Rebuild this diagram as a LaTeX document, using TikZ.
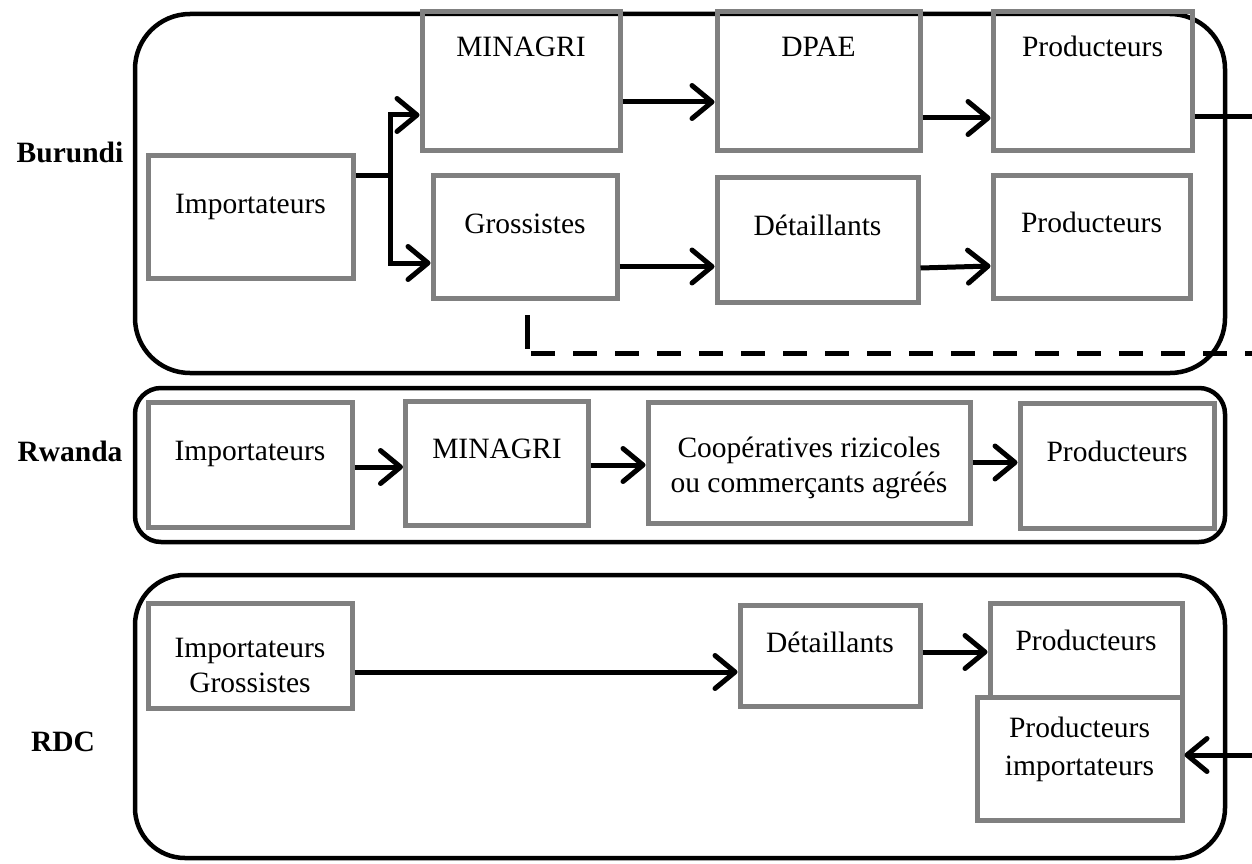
\documentclass[tikz,border=0pt]{standalone}
\usepackage{fontspec}
\setmainfont{Liberation Serif}
\usetikzlibrary{arrows.meta}

\begin{document}
\begin{tikzpicture}[x=1pt,y=-1pt,
  every node/.style={font=\fontsize{29.5}{35}\selectfont},
  stage/.style={draw=black!50, line width=5pt, inner sep=0pt, rectangle},
  txt/.style={inner sep=0pt, align=center, anchor=base},
  country/.style={font=\fontsize{29.5}{35}\selectfont\bfseries, inner sep=0pt, anchor=base},
  group/.style={draw=black, line width=4.5pt},
  flow/.style={draw=black, line width=5pt,
    -{Straight Barb[length=20pt,width=33pt,round]}},
  link/.style={draw=black, line width=5pt},
]
\useasboundingbox (0,0) rectangle (1252,864);

% country frames
\draw[group, rounded corners=55pt] (135,14) rectangle (1225,373);
\draw[group, rounded corners=26pt] (135,388) rectangle (1225,542);
\draw[group, rounded corners=50pt] (135,575) rectangle (1225,858);

% country names
\node[country] (lbu) at (70,162) {Burundi};
\node[country] (lrw) at (70,461) {Rwanda};
\node[country] (lrd) at (63,751) {RDC};

% ---------- Burundi ----------
\node[stage, minimum width=205pt, minimum height=123pt] (bImp) at (250.5,216.5) {};
\node[txt] at (250.5,213) {Importateurs};
\node[stage, minimum width=198pt, minimum height=138pt] (bMin) at (521,81) {};
\node[txt] at (521,57) {MINAGRI};
\node[stage, minimum width=203pt, minimum height=138pt] (bDpae) at (818.5,81) {};
\node[txt] at (818.5,57) {DPAE};
\node[stage, minimum width=199pt, minimum height=138pt] (bProdA) at (1092.5,81) {};
\node[txt] at (1092.5,57) {Producteurs};
\node[stage, minimum width=184pt, minimum height=123pt] (bGros) at (525,236.5) {};
\node[txt] at (525,233) {Grossistes};
\node[stage, minimum width=201pt, minimum height=125pt] (bDet) at (817.5,240) {};
\node[txt] at (817.5,235) {Détaillants};
\node[stage, minimum width=197pt, minimum height=123pt] (bProdB) at (1091.5,236.5) {};
\node[txt] at (1091.5,232) {Producteurs};

\coordinate (fork) at (390,175);
\coordinate (forkT) at (390,115);
\coordinate (forkB) at (390,263);
\draw[link] (bImp.east |- fork) -- (fork);
\draw[flow] (fork) |- (bMin.west |- forkT);
\draw[flow] (fork) |- (bGros.west |- forkB);
\draw[flow] ([yshift=-21pt]bMin.east) -- ([yshift=-21pt]bMin.east -| bDpae.west);
\draw[flow] ([yshift=-37pt]bDpae.east) -- ([yshift=-37pt]bDpae.east -| bProdA.west);
\coordinate (outA) at (1252,117);
\draw[link] (bProdA.east |- outA) -- (outA);
\draw[flow] ([yshift=-30pt]bGros.east) -- ([yshift=-30pt]bGros.east -| bDet.west);
\draw[flow] ([yshift=-28pt]bDet.east) -- ([yshift=-29.5pt]bProdB.west);

% dashed return
\coordinate (dTop) at (527,315);
\coordinate (dBend) at (527,349);
\coordinate (dStart) at (531,353);
\coordinate (dEnd) at (1252,353);
\draw[line width=5pt] (dTop) -- (dBend);
\draw[line width=5pt, dash pattern=on 24pt off 18pt] (dStart) -- (dEnd);

% ---------- Rwanda ----------
\node[stage, minimum width=204pt, minimum height=125pt] (rImp) at (250,465) {};
\node[txt] at (250,460) {Importateurs};
\node[stage, minimum width=183pt, minimum height=124pt] (rMin) at (497,463) {};
\node[txt] at (497,458) {MINAGRI};
\node[stage, minimum width=322pt, minimum height=121pt] (rCoop) at (809,462.5) {};
\node[txt] at (809,492) {Coopératives rizicoles\\ou commerçants agréés};
\node[stage, minimum width=194pt, minimum height=125pt] (rProd) at (1117,465.5) {};
\node[txt] at (1117,461) {Producteurs};

\draw[flow] ([yshift=-2pt]rImp.east) -- ([yshift=-2pt]rImp.east -| rMin.west);
\draw[flow] ([yshift=-2pt]rMin.east) -- ([yshift=-2pt]rMin.east -| rCoop.west);
\draw[flow] (rCoop.east) -- (rCoop.east -| rProd.west);

% ---------- RDC ----------
\node[stage, minimum width=204pt, minimum height=105pt] (dImp) at (250,655.5) {};
\node[txt] at (250,692) {Importateurs\\Grossistes};
\node[stage, minimum width=180pt, minimum height=101pt] (dDet) at (830,655.5) {};
\node[txt] at (830,652) {Détaillants};
\node[stage, minimum width=192pt, minimum height=94pt] (dProd) at (1086,650) {};
\node[txt] at (1086,650) {Producteurs};
\node[stage, fill=white, minimum width=205pt, minimum height=123pt] (dProdImp) at (1079.5,758.5) {};
\node[txt, font=\fontsize{29.5}{38}\selectfont] at (1079.5,775) {Producteurs\\importateurs};

\draw[flow] ([yshift=-16.5pt]dImp.east) -- ([yshift=-16.5pt]dImp.east -| dDet.west);
\draw[flow] ([yshift=3.5pt]dDet.east) -- ([yshift=3.5pt]dDet.east -| dProd.west);
\coordinate (inB) at (1252,755);
\draw[flow] (inB) -- (inB -| dProdImp.east);
\end{tikzpicture}
\end{document}
